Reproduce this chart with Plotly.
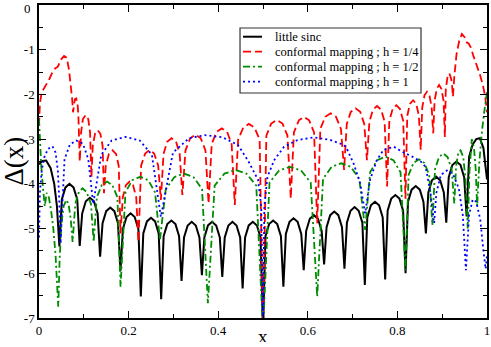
import plotly.graph_objects as go

# ---------------- data ----------------
black_x = [0.000, 0.008, 0.016, 0.026, 0.034, 0.040, 0.0455,
           0.051, 0.059, 0.068, 0.077, 0.0854, 0.0909,
           0.0964, 0.1045, 0.1136, 0.1227, 0.1309, 0.1364,
           0.1419, 0.1500, 0.1591, 0.1682, 0.1763, 0.1818,
           0.1873, 0.1954, 0.2045, 0.2136, 0.2218, 0.2273,
           0.2328, 0.2409, 0.2500, 0.2591, 0.2672, 0.2727,
           0.2782, 0.2863, 0.2955, 0.3046, 0.3127, 0.3182,
           0.3237, 0.3318, 0.3409, 0.3500, 0.3581, 0.3636,
           0.3691, 0.3772, 0.3864, 0.3955, 0.4036, 0.4091,
           0.4146, 0.4227, 0.4318, 0.4409, 0.4490, 0.4545,
           0.4600, 0.4681, 0.4773, 0.4864, 0.4945, 0.5000,
           0.5055, 0.5136, 0.5227, 0.5318, 0.5400, 0.5455,
           0.5510, 0.5591, 0.5682, 0.5773, 0.5854, 0.5909,
           0.5964, 0.6045, 0.6136, 0.6227, 0.6309, 0.6364,
           0.6419, 0.6500, 0.6591, 0.6682, 0.6763, 0.6818,
           0.6873, 0.6954, 0.7045, 0.7136, 0.7218, 0.7273,
           0.7328, 0.7409, 0.7500, 0.7591, 0.7672, 0.7727,
           0.7782, 0.7863, 0.7955, 0.8046, 0.8127, 0.8182,
           0.8237, 0.8318, 0.8409, 0.8500, 0.8581, 0.8636,
           0.8691, 0.8772, 0.8864, 0.8955, 0.9036, 0.9091,
           0.9146, 0.9227, 0.9318, 0.9409, 0.9490, 0.9545,
           0.9600, 0.9680, 0.9760, 0.9840, 0.9920, 1.0000]
black_y = [-3.56, -3.49, -3.48, -3.65, -4.00, -4.50, -5.40,
           -4.35, -4.08, -4.00, -4.08, -4.35, -5.39,
           -4.66, -4.39, -4.31, -4.39, -4.66, -5.63,
           -4.88, -4.61, -4.53, -4.61, -4.88, -5.95,
           -5.01, -4.74, -4.66, -4.74, -5.01, -6.52,
           -5.11, -4.84, -4.76, -4.84, -5.11, -6.58,
           -5.17, -4.90, -4.82, -4.90, -5.17, -6.17,
           -5.20, -4.93, -4.85, -4.93, -5.20, -6.04,
           -5.20, -4.93, -4.85, -4.93, -5.20, -6.08,
           -5.20, -4.93, -4.85, -4.93, -5.20, -6.34,
           -5.20, -4.93, -4.85, -4.93, -5.20, -7.30,
           -5.17, -4.90, -4.82, -4.90, -5.17, -6.30,
           -5.12, -4.85, -4.77, -4.85, -5.12, -5.93,
           -5.05, -4.78, -4.70, -4.78, -5.05, -5.80,
           -4.97, -4.70, -4.62, -4.70, -4.97, -5.90,
           -4.87, -4.60, -4.52, -4.60, -4.87, -6.26,
           -4.75, -4.48, -4.40, -4.48, -4.75, -6.14,
           -4.60, -4.33, -4.25, -4.33, -4.60, -6.00,
           -4.40, -4.13, -4.05, -4.13, -4.40, -5.11,
           -4.19, -3.92, -3.84, -3.92, -4.19, -4.87,
           -3.85, -3.58, -3.50, -3.58, -3.85, -4.73,
           -3.40, -3.12, -3.00, -2.98, -3.20, -3.90]

red_x = [0.000, 0.002, 0.006, 0.012, 0.022, 0.030, 0.036, 0.042, 0.049, 0.056,
         0.062, 0.067, 0.071, 0.074, 0.076,
         0.078, 0.080, 0.083, 0.086, 0.088, 0.091,
         0.094, 0.098, 0.104, 0.110, 0.114, 0.117,
         0.120, 0.125, 0.131, 0.137, 0.142, 0.145,
         0.149, 0.156, 0.164, 0.172, 0.178, 0.182,
         0.187, 0.194, 0.202, 0.210, 0.217, 0.222,
         0.228, 0.237, 0.247, 0.257, 0.266, 0.272,
         0.278, 0.286, 0.296, 0.306, 0.314, 0.320,
         0.327, 0.3375, 0.349, 0.361, 0.3715, 0.3785,
         0.3855, 0.396, 0.408, 0.420, 0.430, 0.437,
         0.4445, 0.456, 0.4685, 0.481, 0.4925, 0.500,
         0.5075, 0.5185, 0.531, 0.5435, 0.5545, 0.562,
         0.569, 0.580, 0.5915, 0.603, 0.614, 0.621,
         0.628, 0.639, 0.651, 0.663, 0.674, 0.681,
         0.687, 0.696, 0.7065, 0.717, 0.726, 0.732,
         0.7375, 0.7455, 0.7545, 0.7635, 0.7715, 0.777,
         0.782, 0.7895, 0.7975, 0.8055, 0.813, 0.818,
         0.822, 0.828, 0.835, 0.842, 0.848, 0.852,
         0.8555, 0.8605, 0.866, 0.8715, 0.8765, 0.880,
         0.883, 0.888, 0.893, 0.898, 0.903, 0.906,
         0.908, 0.912, 0.916, 0.920, 0.922, 0.924,
         0.927, 0.932, 0.938, 0.944, 0.950, 0.955, 0.959, 0.964, 0.970,
         0.977, 0.984, 0.991, 0.996, 1.000]
red_y = [-2.70, -2.20, -1.95, -1.85, -1.68, -1.50, -1.42, -1.38, -1.22, -1.14,
         -1.18, -1.45, -1.80, -2.10, -2.40,
         -2.20, -2.11, -2.09, -2.20, -2.50, -3.50,
         -2.85, -2.55, -2.46, -2.55, -2.85, -3.85,
         -3.15, -2.88, -2.80, -2.88, -3.15, -4.21,
         -3.60, -3.33, -3.25, -3.33, -3.60, -5.11,
         -4.30, -4.03, -3.95, -4.03, -4.30, -5.30,
         -3.59, -3.32, -3.24, -3.32, -3.59, -4.36,
         -3.33, -3.06, -2.98, -3.06, -3.33, -4.25,
         -3.25, -2.98, -2.90, -2.98, -3.25, -4.44,
         -3.11, -2.84, -2.76, -2.84, -3.11, -4.47,
         -3.01, -2.74, -2.66, -2.74, -3.01, -7.30,
         -2.92, -2.65, -2.57, -2.65, -2.92, -4.33,
         -2.85, -2.58, -2.50, -2.58, -2.85, -4.88,
         -2.77, -2.50, -2.42, -2.50, -2.77, -3.69,
         -2.66, -2.39, -2.31, -2.39, -2.66, -3.47,
         -2.61, -2.34, -2.26, -2.34, -2.61, -4.06,
         -2.59, -2.32, -2.24, -2.32, -2.59, -4.33,
         -2.48, -2.21, -2.13, -2.21, -2.48, -3.24,
         -2.29, -2.02, -1.94, -2.02, -2.29, -2.87,
         -2.14, -1.87, -1.79, -1.87, -2.14, -2.95,
         -1.88, -1.60, -1.53, -1.65, -1.80, -2.05,
         -1.60, -1.10, -0.80, -0.65, -0.72, -0.84, -0.86, -0.95, -1.15,
         -1.35, -1.55, -1.80, -2.05, -2.40]

green_x = [0.000, 0.002, 0.005, 0.009, 0.013, 0.017, 0.022, 0.027, 0.032, 0.037,
           0.040, 0.043, 0.046, 0.050, 0.055, 0.061, 0.066, 0.071, 0.075,
           0.081, 0.089, 0.097, 0.106, 0.116, 0.122,
           0.129, 0.140, 0.152, 0.164, 0.175, 0.182,
           0.193, 0.208, 0.226, 0.244, 0.259, 0.270,
           0.283, 0.302, 0.3235, 0.345, 0.364, 0.377,
           0.392, 0.414, 0.4385, 0.463, 0.485, 0.500,
           0.5145, 0.536, 0.5605, 0.585, 0.6065, 0.621,
           0.634, 0.653, 0.6745, 0.696, 0.715, 0.728,
           0.739, 0.755, 0.773, 0.791, 0.807, 0.818,
           0.825, 0.836, 0.848, 0.860, 0.871, 0.878,
           0.884, 0.893, 0.9025, 0.912, 0.921, 0.927,
           0.931, 0.936, 0.941, 0.947, 0.952, 0.957, 0.961, 0.966, 0.971,
           0.975, 0.978, 0.983, 0.989, 0.995, 1.000]
green_y = [-2.55, -3.00, -3.60, -4.10, -4.50, -4.20, -4.30, -4.60, -5.00, -5.60,
           -6.20, -6.75, -5.70, -4.90, -4.50, -4.36, -4.45, -4.80, -5.30,
           -4.45, -4.18, -4.10, -4.18, -4.45, -5.30,
           -4.30, -4.03, -3.95, -4.03, -4.30, -6.30,
           -4.19, -3.92, -3.84, -3.92, -4.19, -5.25,
           -4.12, -3.85, -3.77, -3.85, -4.12, -6.67,
           -4.04, -3.77, -3.69, -3.77, -4.04, -7.30,
           -3.97, -3.70, -3.62, -3.70, -3.97, -6.52,
           -3.89, -3.62, -3.54, -3.62, -3.89, -5.03,
           -3.74, -3.47, -3.39, -3.47, -3.74, -5.93,
           -3.80, -3.53, -3.45, -3.53, -3.80, -4.92,
           -3.67, -3.40, -3.32, -3.40, -3.67, -4.44,
           -3.60, -3.30, -3.25, -3.40, -3.90, -5.00, -3.70, -3.00, -3.20,
           -3.70, -4.50, -3.50, -2.80, -2.30, -1.95]

blue_x = [0.000, 0.002, 0.006, 0.012, 0.020, 0.030, 0.037, 0.042, 0.045, 0.048,
          0.057, 0.069, 0.083, 0.098, 0.110, 0.121,
          0.139, 0.162, 0.193, 0.225, 0.252, 0.272,
          0.299, 0.335, 0.370, 0.410, 0.444, 0.466, 0.489, 0.496, 0.500,
          0.503, 0.510, 0.525, 0.547, 0.577, 0.614, 0.651, 0.681, 0.687, 0.702,
          0.717, 0.728,
          0.739, 0.754, 0.769, 0.792, 0.814, 0.835, 0.852, 0.863, 0.874, 0.882,
          0.887, 0.897, 0.912, 0.925, 0.937, 0.946, 0.953,
          0.960, 0.968, 0.976, 0.985, 0.992, 0.997, 1.000]
blue_y = [-5.20, -4.20, -3.70, -3.40, -3.22, -3.16, -3.30, -3.70, -4.30, -5.33,
          -3.45, -3.12, -3.03, -3.10, -3.45, -4.45,
          -3.35, -3.03, -2.95, -3.03, -3.35, -4.74,
          -3.30, -2.98, -2.91, -2.96, -3.13, -3.47, -3.91, -4.50, -7.30,
          -4.50, -3.84, -3.47, -3.17, -3.02, -2.96, -3.02, -3.13, -3.21, -3.54,
          -3.99, -4.66,
          -3.91, -3.47, -3.24, -3.17, -3.30, -3.40, -3.50, -3.62, -4.21, -4.88,
          -4.20, -3.80, -3.69, -3.80, -4.10, -4.70, -5.93,
          -4.70, -4.35, -4.40, -4.80, -5.50, -5.90, -5.60]

series_names = ["little sinc", "conformal mapping ; h = 1/4",
                "conformal mapping ; h = 1/2", "conformal mapping ; h = 1"]
x_tick_vals = [0, 0.2, 0.4, 0.6, 0.8, 1]
x_tick_text = ["0", "0.2", "0.4", "0.6", "0.8", "1"]
y_tick_vals = [0, -1, -2, -3, -4, -5, -6, -7]
y_tick_text = ["0", "-1", "-2", "-3", "-4", "-5", "-6", "-7"]

# ---------------- styling ----------------
FONT = "Liberation Serif, Times New Roman, serif"
colors = ["#000000", "#ff0000", "#008c00", "#0000ff"]
dashes = ["solid", "8px,4px", "7px,3px,2px,3px", "2px,3px"]
widths = [2.0, 1.8, 1.8, 1.8]

fig = go.Figure()
for xs, ys, name, c, d, w in zip([black_x, red_x, green_x, blue_x],
                                  [black_y, red_y, green_y, blue_y],
                                  series_names, colors, dashes, widths):
    fig.add_trace(go.Scatter(x=xs, y=ys, mode="lines", name=name,
                             line=dict(color=c, dash=d, width=w),
                             showlegend=False))

axis_common = dict(showline=True, linecolor="black", linewidth=1.5,
                   mirror="allticks", ticks="inside", ticklen=7,
                   tickwidth=1.2, tickcolor="black", showgrid=False,
                   zeroline=False, automargin=False,
                   ticklabeloverflow="allow",
                   tickfont=dict(family=FONT, size=13, color="black"))

fig.update_xaxes(range=[0, 1], tickvals=x_tick_vals, ticktext=x_tick_text,
                 minor=dict(ticks="inside", ticklen=4, dtick=0.1,
                            tickcolor="black", tickwidth=1.2, showgrid=False),
                 **axis_common)
# the top label ("0") sits at the very edge of the page; it is drawn as an
# annotation just below the edge so it is not clipped
y_axis_text = [t if v != y_tick_vals[0] else "" for v, t in zip(y_tick_vals, y_tick_text)]
fig.update_yaxes(range=[-7, 0], tickvals=y_tick_vals, ticktext=y_axis_text,
                 minor=dict(ticks="inside", ticklen=4, dtick=0.5,
                            tickcolor="black", tickwidth=1.2, showgrid=False),
                 **axis_common)
fig.add_annotation(text=y_tick_text[0], xref="paper", yref="y", x=-0.0134,
                   y=y_tick_vals[0], yshift=-2.5, xanchor="right",
                   yanchor="middle", showarrow=False, height=10,
                   font=dict(family=FONT, size=13, color="black"))

# legend drawn as a framed box
lx0, lx1, ly0, ly1 = 0.4487, 0.8527, 0.7188, 0.9265
fig.add_shape(type="rect", xref="paper", yref="paper", x0=lx0, x1=lx1,
              y0=ly0, y1=ly1, line=dict(color="#333333", width=1.2),
              fillcolor="white", layer="above")
row_y = [0.8987, 0.8508, 0.8029, 0.7550]
for name, c, d, w, ry in zip(series_names, colors, dashes, widths, row_y):
    fig.add_shape(type="line", xref="paper", yref="paper", x0=0.4554,
                  x1=0.4978, y0=ry, y1=ry, layer="above",
                  line=dict(color=c, dash=d, width=w))
    fig.add_annotation(text=name, xref="paper", yref="paper", x=0.5223, y=ry,
                       xanchor="left", yanchor="middle", showarrow=False,
                       font=dict(family=FONT, size=12.5, color="black"))

# axis titles
fig.add_annotation(text="x", xref="paper", yref="paper", x=0.5, y=-0.058,
                   xanchor="center", yanchor="middle", showarrow=False,
                   height=12, valign="middle",
                   font=dict(family=FONT, size=19, color="black"))
fig.add_annotation(text="Δ(x)", xref="paper", yref="paper", x=-0.058, y=0.5,
                   xanchor="center", yanchor="middle", showarrow=False,
                   textangle=-90,
                   font=dict(family=FONT, size=27, color="black"))

fig.update_layout(width=491, height=347,
                  margin=dict(l=39, r=4, t=5, b=29),
                  paper_bgcolor="white", plot_bgcolor="white",
                  showlegend=False)

fig.write_html("out.html", config={"displayModeBar": False},
               post_script="document.body.style.margin='0';"
                           "document.body.style.overflow='hidden';")
